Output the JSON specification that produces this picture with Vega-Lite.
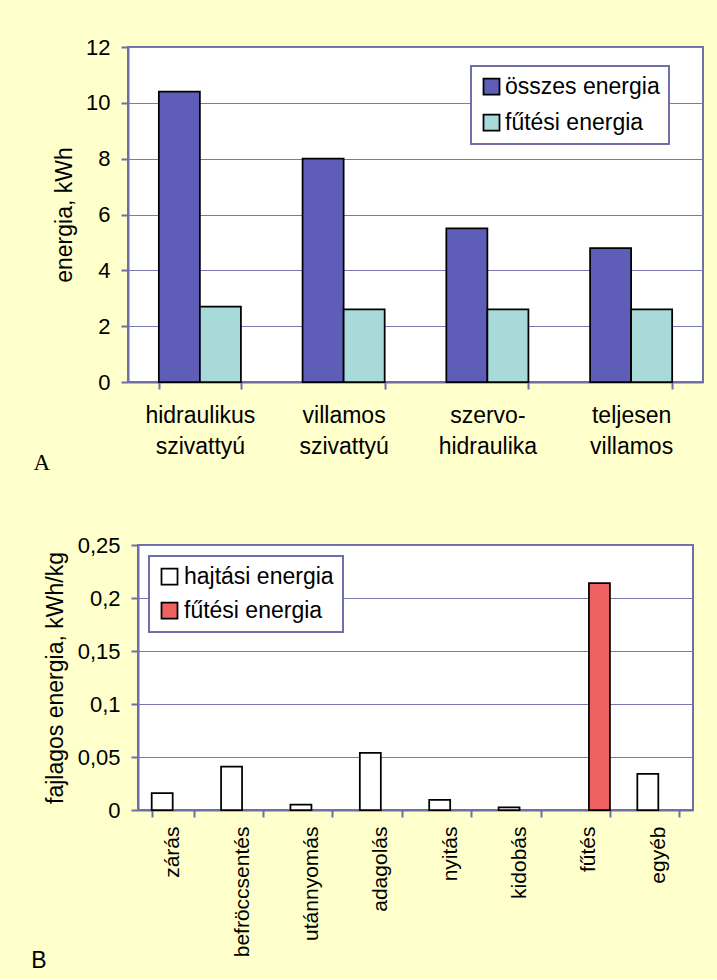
{
  "$schema": "https://vega.github.io/schema/vega-lite/v6.json",
  "background": "#FFFFCC",
  "padding": {"left": 30, "top": 35, "right": 15, "bottom": 5},
  "datasets": {
    "systems": [
      {"system": "hidraulikus szivattyú", "series": "összes energia", "energy": 10.4},
      {"system": "hidraulikus szivattyú", "series": "fűtési energia", "energy": 2.7},
      {"system": "villamos szivattyú", "series": "összes energia", "energy": 8.0},
      {"system": "villamos szivattyú", "series": "fűtési energia", "energy": 2.6},
      {"system": "szervo-hidraulika", "series": "összes energia", "energy": 5.5},
      {"system": "szervo-hidraulika", "series": "fűtési energia", "energy": 2.6},
      {"system": "teljesen villamos", "series": "összes energia", "energy": 4.8},
      {"system": "teljesen villamos", "series": "fűtési energia", "energy": 2.6}
    ],
    "phases": [
      {"phase": "zárás", "series": "hajtási energia", "energy": 0.016},
      {"phase": "befröccsentés", "series": "hajtási energia", "energy": 0.041},
      {"phase": "utánnyomás", "series": "hajtási energia", "energy": 0.005},
      {"phase": "adagolás", "series": "hajtási energia", "energy": 0.054},
      {"phase": "nyitás", "series": "hajtási energia", "energy": 0.0095},
      {"phase": "kidobás", "series": "hajtási energia", "energy": 0.0025},
      {"phase": "fűtés", "series": "fűtési energia", "energy": 0.214},
      {"phase": "egyéb", "series": "hajtási energia", "energy": 0.034}
    ]
  },
  "config": {
    "font": "Liberation Sans",
    "view": {"fill": "white", "stroke": "#6f6fa8", "strokeWidth": 2},
    "axis": {
      "labelFont": "Liberation Sans", "titleFont": "Liberation Sans",
      "labelColor": "black", "titleColor": "black", "titleFontWeight": "normal",
      "domainColor": "#6f6fa8", "domainWidth": 2,
      "tickColor": "#6f6fa8", "tickWidth": 2, "tickSize": 7,
      "gridColor": "#7878ae", "gridWidth": 1
    },
    "legend": {
      "labelFont": "Liberation Sans", "labelFontSize": 23, "labelColor": "black",
      "symbolType": "square", "symbolSize": 256, "symbolStrokeColor": "black",
      "symbolStrokeWidth": 1.5, "symbolOpacity": 1,
      "fillColor": "white", "strokeColor": "#6f6fa8", "strokeWidth": 2,
      "padding": 9, "rowPadding": 11, "labelOffset": 3
    },
    "bar": {"stroke": "black", "strokeWidth": 1.75, "opacity": 1}
  },
  "center": true,
  "spacing": 57,
  "resolve": {
    "scale": {"x": "independent", "xOffset": "independent", "y": "independent", "color": "independent"},
    "legend": {"color": "independent"}
  },
  "vconcat": [
    {
      "width": 575,
      "height": 335,
      "title": {"text": "A", "orient": "bottom", "anchor": "start", "frame": "bounds", "font": "Liberation Serif", "fontSize": 23, "fontWeight": "normal", "color": "black", "dx": -20, "offset": 12, "baseline": "alphabetic"},
      "data": {"name": "systems"},
      "mark": {"type": "bar"},
      "encoding": {
        "x": {
          "field": "system", "type": "nominal",
          "sort": ["hidraulikus szivattyú", "villamos szivattyú", "szervo-hidraulika", "teljesen villamos"],
          "scale": {"paddingInner": 0.429, "paddingOuter": 0.2145},
          "axis": {"title": null, "labelAngle": 0, "labelFontSize": 23, "labelExpr": "split(replace(datum.label, '-', '- '), ' ')", "labelLineHeight": 31, "labelPadding": 15, "labelBaseline": "top", "tickBand": "extent", "grid": false}
        },
        "xOffset": {"field": "series", "type": "nominal", "sort": ["összes energia", "fűtési energia"], "scale": {"paddingInner": 0, "paddingOuter": 0}},
        "y": {
          "field": "energy", "type": "quantitative",
          "scale": {"domain": [0, 12], "nice": false},
          "axis": {"title": "energia, kWh", "values": [0, 2, 4, 6, 8, 10, 12], "labelFontSize": 22, "titleFontSize": 23, "labelPadding": 11, "titlePadding": 9, "grid": true}
        },
        "color": {
          "field": "series", "type": "nominal",
          "scale": {"domain": ["összes energia", "fűtési energia"], "range": ["#5e5eb9", "#a9dada"]},
          "legend": {"title": null, "orient": "none", "legendX": 343, "legendY": 19, "rowPadding": 12, "labelOffset": 2}
        }
      }
    },
    {
      "width": 555,
      "height": 265,
      "title": {"text": "B", "orient": "bottom", "anchor": "start", "frame": "bounds", "font": "Liberation Sans", "fontSize": 23, "fontWeight": "normal", "color": "black", "dx": -13, "offset": 11, "baseline": "alphabetic"},
      "data": {"name": "phases"},
      "mark": {"type": "bar"},
      "encoding": {
        "x": {
          "field": "phase", "type": "nominal",
          "sort": ["zárás", "befröccsentés", "utánnyomás", "adagolás", "nyitás", "kidobás", "fűtés", "egyéb"],
          "scale": {"paddingInner": 0.395, "paddingOuter": 0.1975},
          "axis": {"title": null, "labelAngle": -90, "labelFontSize": 21, "labelPadding": 9, "tickBand": "extent", "grid": false}
        },
        "xOffset": {"field": "series", "type": "nominal", "sort": ["hajtási energia", "fűtési energia"], "scale": {"domain": ["hajtási energia", "fűtési energia"], "paddingInner": 0, "paddingOuter": 0}},
        "y": {
          "field": "energy", "type": "quantitative",
          "scale": {"domain": [0, 0.25], "nice": false},
          "axis": {"title": "fajlagos energia, kWh/kg", "values": [0, 0.05, 0.1, 0.15, 0.2, 0.25], "format": ".2~f", "labelExpr": "replace(datum.label, '.', ',')", "labelFontSize": 22, "titleFontSize": 23, "labelPadding": 11, "titlePadding": 10, "grid": true}
        },
        "color": {
          "field": "series", "type": "nominal",
          "scale": {"domain": ["hajtási energia", "fűtési energia"], "range": ["#ffffff", "#ee6262"]},
          "legend": {"title": null, "orient": "top-left", "offset": 11, "rowPadding": 10}
        }
      }
    }
  ]
}
